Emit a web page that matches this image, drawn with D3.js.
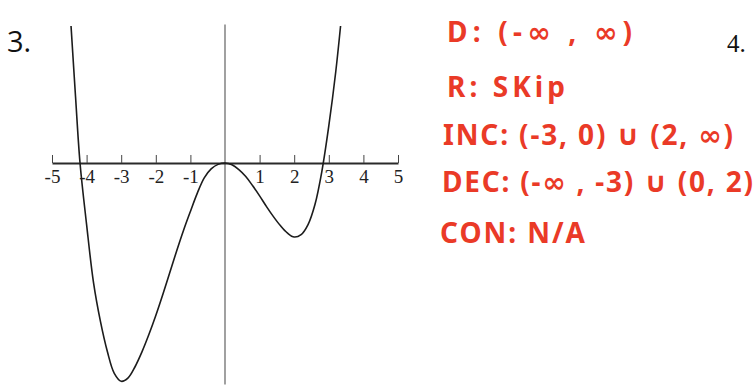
<!DOCTYPE html>
<html>
<head>
<meta charset="utf-8">
<script src="https://cdn.jsdelivr.net/npm/d3@7"></script>
<style>
  html, body { margin: 0; padding: 0; background: #fff; }
  svg { display: block; }
</style>
</head>
<body>
<svg id="chart" width="755" height="387"></svg>
<script>
// Graph of the quartic: points along the curve
const curveX = [-4.45, -4.32, -4.19, -4.0, -3.8, -3.6, -3.4, -3.2, -3.0, -2.8, -2.6, -2.4, -2.2, -2.0, -1.8, -1.6, -1.4, -1.2, -1.0, -0.8, -0.6, -0.4, -0.2, 0, 0.2, 0.4, 0.6, 0.8, 1.0, 1.2, 1.4, 1.6, 1.8, 2.0, 2.2, 2.4, 2.6, 2.8, 3.0, 3.2, 3.34];
const curveY = [3.96, 1.92, 0, -1.78, -3.46, -4.58, -5.45, -6.08, -6.31, -6.21, -5.89, -5.46, -4.96, -4.41, -3.81, -3.18, -2.55, -1.95, -1.40, -0.87, -0.43, -0.17, -0.04, 0, -0.05, -0.19, -0.39, -0.66, -0.95, -1.26, -1.55, -1.81, -2.02, -2.14, -2.07, -1.78, -1.20, -0.24, 1.07, 2.63, 3.96];

// x-axis ticks and their labels (no label at the origin)
const tickValues = [-5, -4, -3, -2, -1, 1, 2, 3, 4, 5];
const tickLabels = ["-5", "-4", "-3", "-2", "-1", "1", "2", "3", "4", "5"];

// Problem numbers
const problemLabels = ["3.", "4."];

// Handwritten answers
const noteLines = [
  "D: (-\u221E , \u221E)",
  "R: SKip",
  "INC: (-3, 0) \u222A (2, \u221E)",
  "DEC: (-\u221E , -3) \u222A (0, 2)",
  "CON: N/A"
];
const noteWidths = [185, 118, 290, 311, 145];

const svg = d3.select("#chart");

const x = d3.scaleLinear().domain([-5, 5]).range([52, 398]);
const y = d3.scaleLinear().domain([-6.4, 4]).range([384.4, 24.6]);

// vertical axis
svg.append("line")
  .attr("x1", x(0)).attr("x2", x(0))
  .attr("y1", y(4)).attr("y2", y(-6.4))
  .attr("stroke", "#6e6e6e")
  .attr("stroke-width", 1.3);

// horizontal axis: ticks rise above the line, labels sit below
const xAxis = d3.axisBottom(x)
  .tickValues(tickValues)
  .tickFormat((d, i) => tickLabels[i])
  .tickSizeInner(-8)
  .tickSizeOuter(0)
  .tickPadding(7);

const gx = svg.append("g")
  .attr("transform", `translate(0,${y(0)})`)
  .call(xAxis);
gx.select(".domain").attr("stroke", "#2a2a2a").attr("stroke-width", 1.8);
gx.selectAll(".tick line").attr("stroke", "#444").attr("stroke-width", 1);
gx.selectAll(".tick text")
  .attr("fill", "#222")
  .style("font-family", "'Liberation Serif', 'DejaVu Serif', serif")
  .style("font-size", "19px");

// the curve
const pts = curveX.map((v, i) => [v, curveY[i]]);
const line = d3.line()
  .x(d => x(d[0]))
  .y(d => y(d[1]))
  .curve(d3.curveCatmullRom.alpha(0.5));

svg.append("path")
  .datum(pts)
  .attr("d", line)
  .attr("fill", "none")
  .attr("stroke", "#1c1c1c")
  .attr("stroke-width", 1.6);

// problem numbers
svg.append("text")
  .attr("x", 7).attr("y", 52)
  .style("font-family", "'Open Sans', 'Noto Sans', sans-serif")
  .style("font-size", "29px")
  .attr("fill", "#111")
  .text(problemLabels[0]);

svg.append("text")
  .attr("x", 727).attr("y", 51.5)
  .style("font-family", "'Liberation Serif', serif")
  .style("font-size", "25px")
  .attr("fill", "#111")
  .text(problemLabels[1]);

// handwritten notes
const noteBaselines = [42, 97, 145, 192, 243];
const noteX = [447, 447, 443, 442, 440];
svg.append("g")
  .selectAll("text")
  .data(noteLines)
  .join("text")
  .attr("x", (d, i) => noteX[i])
  .attr("y", (d, i) => noteBaselines[i])
  .attr("textLength", (d, i) => noteWidths[i])
  .attr("lengthAdjust", "spacing")
  .style("font-family", "'Noto Sans', 'DejaVu Sans', sans-serif")
  .style("font-weight", "700")
  .style("font-size", "28px")
  .attr("fill", "#ea3a27")
  .text(d => d);
</script>
</body>
</html>
